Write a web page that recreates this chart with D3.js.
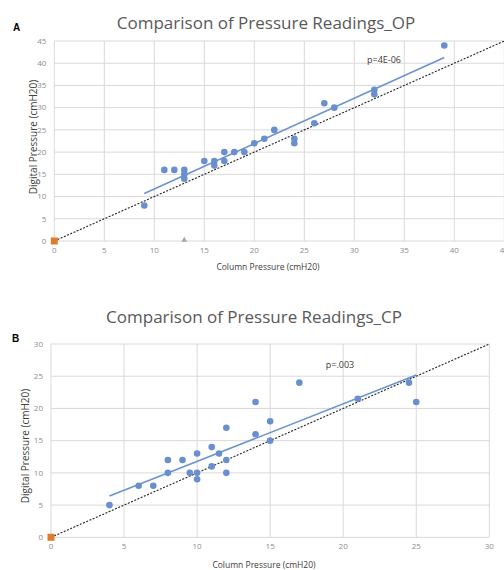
<!DOCTYPE html>
<html>
<head>
<meta charset="utf-8">
<script src="https://cdn.jsdelivr.net/npm/d3@7"></script>
<style>
  body { margin: 0; background: #fff; }
  svg { display: block; font-family: 'Open Sans', sans-serif; }
  .grid line { stroke: #d9d9d9; stroke-width: 1; }
  .tick-label { fill: #8c8c8c; font-size: 8px; }
  .axis-title { fill: #404040; font-size: 8.5px; }
  .y-title { fill: #404040; font-size: 10px; }
  .title { fill: #595959; font-size: 17px; }
  .panel { fill: #000; font-size: 10px; font-weight: bold; font-family: 'Liberation Sans', sans-serif; }
</style>
</head>
<body>
<svg id="chart" width="504" height="570"></svg>
<script>
/* Panel A: open pressure readings (column vs digital) */
var opColumn  = [9, 11, 12, 13, 13, 13, 15, 16, 16, 17, 17, 18, 19, 20, 21, 22, 24, 24, 26, 27, 28, 32, 32, 39];
var opDigital = [8, 16, 16, 14, 15, 16, 18, 17, 18, 18, 20, 20, 20, 22, 23, 25, 22, 23, 26.5, 31, 30, 33, 34, 44];
var opTrend   = [[9, 10.7], [39, 41.3]];
var opOutlier = [[13, 0]];
var opTicks   = [0, 5, 10, 15, 20, 25, 30, 35, 40, 45];

/* Panel B: closed pressure readings */
var cpColumn  = [4, 6, 7, 8, 8, 9, 9.5, 10, 10, 10, 11, 11, 11.5, 12, 12, 12, 14, 14, 15, 15, 17, 21, 24.5, 25];
var cpDigital = [5, 8, 8, 12, 10, 12, 10, 13, 10, 9, 14, 11, 13, 17, 12, 10, 21, 16, 18, 15, 24, 21.5, 24, 21];
var cpTrend   = [[4, 6.4], [25, 25.2]];
var cpTicks   = [0, 5, 10, 15, 20, 25, 30];

var origin = [[0, 0]];

var svg = d3.select('#chart');

function drawPanel(o) {
  var x = d3.scaleLinear().domain([0, o.max]).range([o.left, o.right]);
  var y = d3.scaleLinear().domain([0, o.max]).range([o.bottom, o.top]);
  var g = svg.append('g');

  /* We draw the grid */
  var grid = g.append('g').attr('class', 'grid');
  grid.selectAll('.gx').data(o.ticks).enter().append('line')
    .attr('x1', function(d) { return x(d); })
    .attr('x2', function(d) { return x(d); })
    .attr('y1', y(0)).attr('y2', y(o.max));
  grid.selectAll('.gy').data(o.ticks).enter().append('line')
    .attr('y1', function(d) { return y(d); })
    .attr('y2', function(d) { return y(d); })
    .attr('x1', x(0)).attr('x2', x(o.max));

  /* Tick labels */
  g.selectAll('.yl').data(o.ticks).enter().append('text')
    .attr('class', 'tick-label')
    .attr('x', x(0) - 8)
    .attr('y', function(d) { return y(d); })
    .attr('dy', '0.35em')
    .style('text-anchor', 'end')
    .text(function(d) { return d; });
  g.selectAll('.xl').data(o.ticks).enter().append('text')
    .attr('class', 'tick-label')
    .attr('x', function(d) { return x(d); })
    .attr('y', y(0) + 12)
    .style('text-anchor', 'middle')
    .text(function(d) { return d; });

  /* Line of identity */
  g.append('line')
    .attr('x1', x(0)).attr('y1', y(0))
    .attr('x2', x(o.max)).attr('y2', y(o.max))
    .attr('stroke', '#222')
    .attr('stroke-width', 1.1)
    .attr('stroke-dasharray', '2,1.5');

  /* Trend line */
  g.append('path')
    .datum(o.trend)
    .attr('fill', 'none')
    .attr('stroke', '#6a93d0')
    .attr('stroke-width', 1.6)
    .attr('d', d3.line()
      .x(function(d) { return x(d[0]); })
      .y(function(d) { return y(d[1]); }));

  /* Points */
  g.selectAll('.point').data(o.xs).enter().append('circle')
    .attr('r', 3.3)
    .attr('fill', '#6a8fce')
    .attr('cx', function(d) { return x(d); })
    .attr('cy', function(d, i) { return y(o.ys[i]); });

  if (o.outlier) {
    g.selectAll('.tri').data(o.outlier).enter().append('path')
      .attr('d', d3.symbol().type(d3.symbolTriangle).size(14))
      .attr('fill', '#a6a6a6')
      .attr('transform', function(d) {
        return 'translate(' + x(d[0]) + ',' + (y(d[1]) - 1) + ')';
      });
  }

  /* Origin marker */
  g.selectAll('.origin').data(origin).enter().append('rect')
    .attr('x', function(d) { return x(d[0]) - 3.5; })
    .attr('y', function(d) { return y(d[1]) - 3.5; })
    .attr('width', 7).attr('height', 7)
    .attr('fill', '#e07b2a');

  /* Texts */
  g.append('text').attr('class', 'title')
    .attr('x', o.titleX).attr('y', o.titleY)
    .style('text-anchor', 'middle')
    .text(o.title);
  g.append('text').attr('class', 'panel')
    .attr('x', o.panelX).attr('y', o.panelY)
    .text(o.panel);
  g.append('text').attr('class', 'axis-title')
    .attr('x', o.xTitleX).attr('y', o.xTitleY)
    .style('text-anchor', 'middle')
    .text('Column Pressure (cmH20)');
  g.append('text').attr('class', 'y-title')
    .attr('transform', 'translate(' + o.yTitleX + ',' + o.yTitleY + ') rotate(-90)')
    .attr('dy', '0.35em')
    .style('text-anchor', 'middle')
    .text('Digital Pressure (cmH20)');
  g.append('text').attr('class', 'axis-title')
    .attr('x', o.pX).attr('y', o.pY)
    .style('text-anchor', 'middle')
    .style('font-size', '9px')
    .text(o.pText);
}

drawPanel({
  max: 45, left: 54.3, right: 504.3, bottom: 241, top: 41,
  ticks: opTicks, xs: opColumn, ys: opDigital, trend: opTrend, outlier: opOutlier,
  title: 'Comparison of Pressure Readings_OP', titleX: 266, titleY: 29,
  panel: 'A', panelX: 13, panelY: 31,
  xTitleX: 268, xTitleY: 270, yTitleX: 33, yTitleY: 137,
  pText: 'p=4E-06', pX: 384, pY: 63
});

drawPanel({
  max: 30, left: 51, right: 489.3, bottom: 537.3, top: 344,
  ticks: cpTicks, xs: cpColumn, ys: cpDigital, trend: cpTrend,
  title: 'Comparison of Pressure Readings_CP', titleX: 254, titleY: 323,
  panel: 'B', panelX: 12, panelY: 342,
  xTitleX: 264, xTitleY: 568, yTitleX: 25, yTitleY: 446,
  pText: 'p=.003', pX: 340, pY: 368
});
</script>
</body>
</html>
